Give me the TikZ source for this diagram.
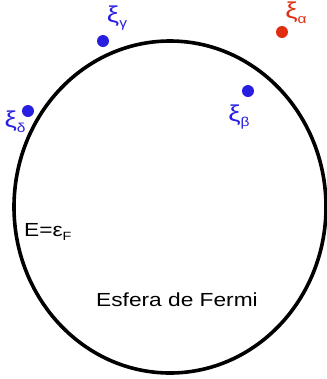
\documentclass[tikz,border=0pt]{standalone}
\usepackage{fontspec}
\setmainfont[FakeStretch=1.2]{Liberation Sans}
\usepackage{tikz}
\usetikzlibrary{positioning}
\definecolor{stateblue}{RGB}{40,30,225}
\definecolor{statered}{RGB}{225,45,15}
\newcommand{\xisub}[1]{{\fontsize{23}{23}\selectfont ξ}\raisebox{-5bp}{\fontsize{13}{13}\selectfont #1}}

\begin{document}
\begin{tikzpicture}[x=1bp,y=-1bp,
  state/.style={circle,fill=#1,draw=none,minimum size=12bp,inner sep=0pt},
  statelabel/.style={text=#1,inner sep=0pt},
  sphere/.style={draw=black,line width=3.6bp},
  plain/.style={font=\fontsize{19}{19}\selectfont,inner sep=0pt},
]
\useasboundingbox (0,0) rectangle (327,379);

% Fermi sphere
\draw[sphere] (170,207) ellipse [x radius=156,y radius=166];
\coordinate (center) at (170,207);

% States
\node[state=stateblue] (gamma) at (103,41) {};
\node[state=statered] (alpha) at (282,32) {};
\node[state=stateblue] (beta) at (248,91) {};
\node[state=stateblue] (delta) at (28,111) {};

% Labels
\node[statelabel=stateblue] (gammalbl) at (117,18) {\xisub{γ}};
\node[statelabel=statered] (alphalbl) at (296,13) {\xisub{α}};
\node[statelabel=stateblue] (betalbl) at (239,117) {\xisub{β}};
\node[statelabel=stateblue] (deltalbl) at (15,122) {\xisub{δ}};

\node[plain,anchor=west] (fermien) at (24,232) {E=ε\raisebox{-4bp}{\fontsize{12}{12}\selectfont F}};
\node[plain] (spherelbl) at (177,300) {Esfera de Fermi};

\end{tikzpicture}
\end{document}
